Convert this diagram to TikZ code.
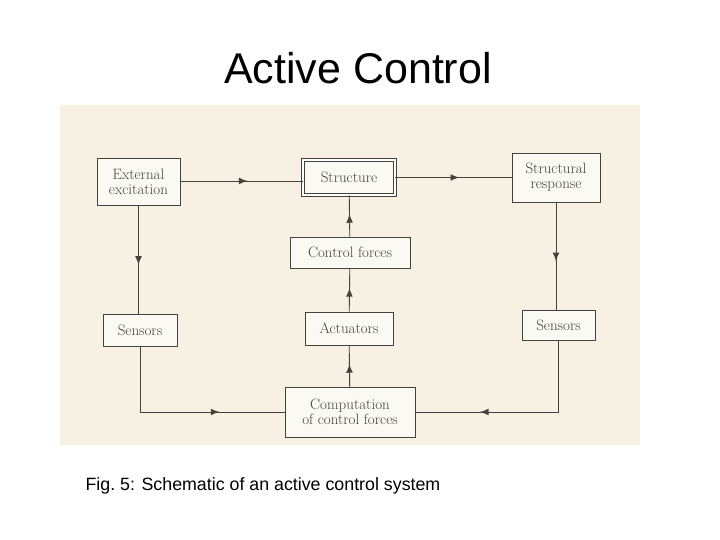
\documentclass[tikz,border=0pt]{standalone}
\usepackage{fontspec}
\setmainfont{Latin Modern Roman}
\newfontfamily\arialfont{Liberation Sans}
\usetikzlibrary{positioning,decorations.markings}
\definecolor{paper}{RGB}{246,241,226}
\definecolor{ink}{RGB}{70,65,60}
\begin{document}
\begin{tikzpicture}[x=1pt, y=-1pt, >=latex]
                    % Define styles
                    \tikzset{block/.style={rectangle, draw=ink, line width=0.7pt, fill=white!60!paper, text=ink, align=center, font=\fontsize{15}{15}\selectfont, inner sep=2pt, minimum height=30pt},
                             line/.style={draw=ink, line width=0.9pt, postaction={decorate}, decoration={markings, mark=at position 0.55 with {\arrow[ink, scale=1.6]{latex}}}}}
                    \useasboundingbox (0,0) rectangle (720,540);
                    \fill[paper] (60,105) rectangle (640,445);
                    \node[font=\arialfont\fontsize{43}{43}\selectfont] (title) at (358,68) {Active Control};
                    \node[font=\arialfont\fontsize{17.8}{17.8}\selectfont, anchor=west] (caption) at (82,486) {Fig.\ 5: Schematic of an active control system};

                    % Boxes
                    \node[block, minimum width=83pt, minimum height=47pt] (excitation) at (138.5,181.5) {External\\excitation};
                    \node[block, minimum width=92pt, minimum height=35pt, double, double distance=2pt] (structure) at (349,177.5) {Structure};
                    \node[block, minimum width=88pt, minimum height=49pt] (response) at (556,177.5) {Structural\\response};
                    \node[block, minimum width=120pt, minimum height=31pt] (forces) at (350,252.5) {Control forces};
                    \node[block, minimum width=74pt, minimum height=32pt] (sensorsL) at (140,330) {Sensors};
                    \node[block, minimum width=88pt, minimum height=33pt] (actuators) at (349,328.5) {Actuators};
                    \node[block, minimum width=73pt, minimum height=30pt] (sensorsR) at (558.5,325) {Sensors};
                    \node[block, minimum width=130pt, minimum height=50pt] (computation) at (350,412) {Computation\\of control forces};

                    % Corners of the return loops
                    \coordinate (cornerL) at (sensorsL.south |- computation.west);
                    \coordinate (cornerR) at (sensorsR.south |- computation.west);

                    % Connectors
                    \draw[line] (excitation.east |- 0,181) -- (structure.west |- 0,181);
                    \draw[line] (structure.east) -- (response.west);
                    \draw[line] (excitation) -- (excitation |- sensorsL.north);
                    \draw[line] (response) -- (response |- sensorsR.north);
                    \draw[line] (computation) -- (actuators);
                    \draw[line] (actuators) -- (forces);
                    \draw[line] (forces) -- (structure);
                    \draw[draw=ink, line width=0.9pt] (sensorsL.south) -- (cornerL);
                    \draw[line] (cornerL) -- (computation.west);
                    \draw[draw=ink, line width=0.9pt] (sensorsR.south) -- (cornerR);
                    \draw[line] (cornerR) -- (computation.east);
\end{tikzpicture}
\end{document}
